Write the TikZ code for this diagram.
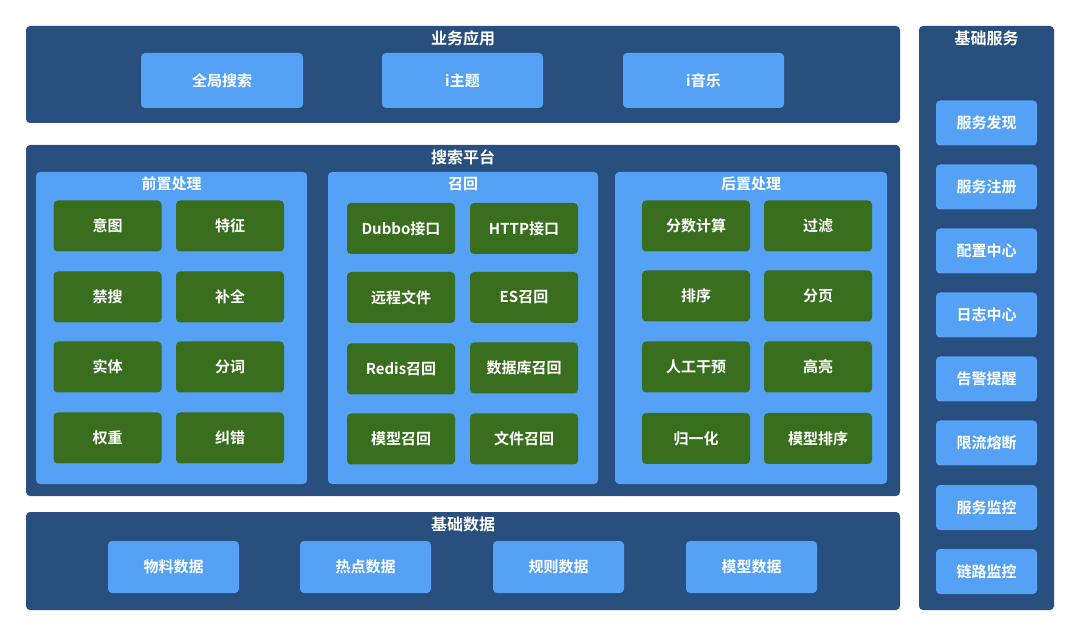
\documentclass[tikz,border=0pt]{standalone}
\usepackage{fontspec}
\setmainfont{Noto Sans CJK SC}[BoldFont={Noto Sans CJK SC Bold}]
\definecolor{darkb}{HTML}{284F7E}
\definecolor{lightb}{HTML}{55A1F5}
\definecolor{greenb}{HTML}{3A6E1F}
\begin{document}
\begin{tikzpicture}[x=1pt,y=-1pt,
  cont/.style={fill=darkb,draw=none,rounded corners=4pt,inner sep=0pt},
  panel/.style={fill=lightb,draw=none,rounded corners=4pt,inner sep=0pt},
  lbox/.style={fill=lightb,draw=none,rounded corners=4pt,inner sep=0pt,text=white,font=\bfseries\fontsize{15}{18}\selectfont},
  gbox/.style={fill=greenb,draw=none,rounded corners=4pt,inner sep=0pt,minimum width=108pt,minimum height=51pt,text=white,font=\bfseries\fontsize{15}{18}\selectfont},
  ttl/.style={text=white,inner sep=0pt,font=\bfseries\fontsize{16}{19}\selectfont},
  pttl/.style={text=white,inner sep=0pt,font=\bfseries\fontsize{15}{18}\selectfont}]
\useasboundingbox (0,0) rectangle (1080,636);
% containers
\node[cont,minimum width=874pt,minimum height=97pt] (app) at (463,74.5) {};
\node[cont,minimum width=874pt,minimum height=351pt] (plat) at (463,320.5) {};
\node[cont,minimum width=874pt,minimum height=98pt] (data) at (463,561) {};
\node[cont,minimum width=135pt,minimum height=584pt] (svc) at (986.5,318) {};
\node[ttl] (tapp) at (463,38) {业务应用};
\node[ttl] (tplat) at (463,157) {搜索平台};
\node[ttl] (tdata) at (463,524) {基础数据};
\node[ttl] (tsvc) at (986.5,38) {基础服务};
% app buttons
\node[lbox,minimum width=162pt,minimum height=55pt] (a1) at (222,80.5) {全局搜索};
\node[lbox,minimum width=161pt,minimum height=55pt] (a2) at (462.5,80.5) {i主题};
\node[lbox,minimum width=161pt,minimum height=55pt] (a3) at (703.5,80.5) {i音乐};
% panels
\node[panel,minimum width=271pt,minimum height=312pt] (p1) at (171.5,328) {};
\node[panel,minimum width=270pt,minimum height=312pt] (p2) at (463,328) {};
\node[panel,minimum width=272pt,minimum height=312pt] (p3) at (751,328) {};
\node[pttl] (tp1) at (171.5,184) {前置处理};
\node[pttl] (tp2) at (463,184) {召回};
\node[pttl] (tp3) at (751,184) {后置处理};
% pre
\node[gbox] (q1) at (107.5,226) {意图};
\node[gbox] (q2) at (230,226) {特征};
\node[gbox] (q3) at (107.5,297) {禁搜};
\node[gbox] (q4) at (230,297) {补全};
\node[gbox] (q5) at (107.5,367) {实体};
\node[gbox] (q6) at (230,367) {分词};
\node[gbox] (q7) at (107.5,438) {权重};
\node[gbox] (q8) at (230,438) {纠错};
% recall
\node[gbox] (r1) at (401,228.5) {Dubbo接口};
\node[gbox] (r2) at (524,228.5) {HTTP接口};
\node[gbox] (r3) at (401,297.5) {远程文件};
\node[gbox] (r4) at (524,297.5) {ES召回};
\node[gbox] (r5) at (401,369) {Redis召回};
\node[gbox] (r6) at (524,368) {数据库召回};
\node[gbox] (r7) at (401,439) {模型召回};
\node[gbox] (r8) at (524,439) {文件召回};
% post
\node[gbox] (s1) at (696,226) {分数计算};
\node[gbox] (s2) at (818,226) {过滤};
\node[gbox] (s3) at (696,296) {排序};
\node[gbox] (s4) at (818,296) {分页};
\node[gbox] (s5) at (696,367) {人工干预};
\node[gbox] (s6) at (818,367) {高亮};
\node[gbox] (s7) at (696,438.5) {归一化};
\node[gbox] (s8) at (818,438.5) {模型排序};
% data
\node[lbox,minimum width=131pt,minimum height=52pt] (d1) at (173.5,567) {物料数据};
\node[lbox,minimum width=131pt,minimum height=52pt] (d2) at (365.5,567) {热点数据};
\node[lbox,minimum width=131pt,minimum height=52pt] (d3) at (558.5,567) {规则数据};
\node[lbox,minimum width=131pt,minimum height=52pt] (d4) at (751.5,567) {模型数据};
% services
\node[lbox,minimum width=101pt,minimum height=45pt] (v1) at (986.5,123) {服务发现};
\node[lbox,minimum width=101pt,minimum height=45pt] (v2) at (986.5,187) {服务注册};
\node[lbox,minimum width=101pt,minimum height=45pt] (v3) at (986.5,251) {配置中心};
\node[lbox,minimum width=101pt,minimum height=45pt] (v4) at (986.5,315) {日志中心};
\node[lbox,minimum width=101pt,minimum height=45pt] (v5) at (986.5,379) {告警提醒};
\node[lbox,minimum width=101pt,minimum height=45pt] (v6) at (986.5,443) {限流熔断};
\node[lbox,minimum width=101pt,minimum height=45pt] (v7) at (986.5,507.5) {服务监控};
\node[lbox,minimum width=101pt,minimum height=45pt] (v8) at (986.5,571.5) {链路监控};
\end{tikzpicture}
\end{document}
